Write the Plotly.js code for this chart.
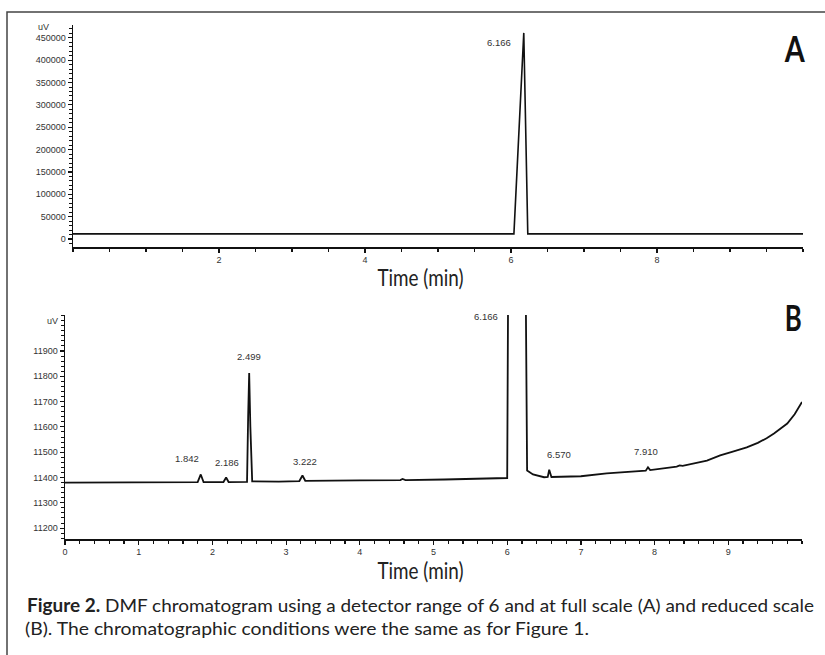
<!DOCTYPE html>
<html>
<head>
<meta charset="utf-8">
<script src="https://cdn.plot.ly/plotly-3.0.1.min.js"></script>
<style>
html,body{margin:0;padding:0;background:#fff;}
#chart{width:825px;height:655px;}
</style>
</head>
<body>
<div id="chart"></div>
<script>
// ---- Data ----
// Panel A: full scale chromatogram (time in min, signal in uV)
const timeA = [0, 6.04, 6.175, 6.23, 10];
const signalA = [11380, 11380, 461000, 11380, 11380];

// Panel B: reduced scale chromatogram
const timeB = [0, 1.0, 1.80, 1.842, 1.88, 2.15, 2.186, 2.22, 2.47, 2.485, 2.499, 2.515, 2.54,
  2.9, 3.18, 3.222, 3.26, 4.0, 4.55, 4.58, 4.62, 5.15, 5.9, 6.0, 6.02, 6.24, 6.27, 6.35,
  6.5, 6.55, 6.57, 6.6, 7.0, 7.35, 7.88, 7.91, 7.94, 8.3, 8.34, 8.38, 8.71, 8.89, 9.05, 9.25,
  9.4, 9.52, 9.62, 9.7, 9.8, 9.9, 10.0];
const signalB = [11380, 11381, 11382, 11412, 11382, 11382, 11400, 11382, 11383, 11640, 11813, 11600, 11385,
  11384, 11386, 11408, 11387, 11389, 11390, 11394, 11390, 11392, 11396, 11398, 12600, 12600, 11428, 11412,
  11401, 11402, 11431, 11402, 11405, 11416, 11427, 11440, 11429, 11443, 11448, 11446, 11467, 11487, 11501, 11519,
  11537, 11555, 11574, 11592, 11613, 11650, 11698];

// Peak labels (retention times)
const peakLabelA = ['6.166'];
const peakLabelsB = ['1.842', '2.186', '2.499', '3.222', '6.166', '6.570', '7.910'];

// Axis ticks
const yTicksA = [0, 50000, 100000, 150000, 200000, 250000, 300000, 350000, 400000, 450000];
const xTicksA = [2, 4, 6, 8];
const yTicksB = [11200, 11300, 11400, 11500, 11600, 11700, 11800, 11900];
const xTicksB = [0, 1, 2, 3, 4, 5, 6, 7, 8, 9];

const caption1 = '<b>Figure 2.</b> DMF chromatogram using a detector range of 6 and at full scale (A) and reduced scale';
const caption2 = '(B). The chromatographic conditions were the same as for Figure 1.';

// ---- Layout helpers (pixel -> paper) ----
const W = 825, H = 655;
const PX = p => p / W;
const PY = p => 1 - p / H;

const human = 'Lato, Roboto, sans-serif';
const tickFont = {family: 'Liberation Sans, Arial, sans-serif', size: 9, color: '#333'};

const traces = [
  {x: timeA, y: signalA, xaxis: 'x', yaxis: 'y', mode: 'lines',
   line: {color: '#111', width: 1.6}, hoverinfo: 'skip'},
  {x: timeB, y: signalB, xaxis: 'x2', yaxis: 'y2', mode: 'lines',
   line: {color: '#111', width: 1.8}, hoverinfo: 'skip'}
];

const axisCommon = {
  showgrid: false, zeroline: false, showline: true, linecolor: '#111', linewidth: 1.5,
  ticks: 'outside', tickcolor: '#111', tickwidth: 1.2, tickfont: tickFont, fixedrange: true
};

const layout = {
  width: W, height: H,
  margin: {l: 0, r: 0, t: 0, b: 0},
  paper_bgcolor: '#fff', plot_bgcolor: 'rgba(0,0,0,0)',
  showlegend: false,
  xaxis: Object.assign({}, axisCommon, {
    domain: [PX(73), PX(803)], range: [0, 10], anchor: 'y',
    tickmode: 'array', tickvals: xTicksA, ticklen: 4,
    minor: {dtick: 0.5, ticks: 'outside', ticklen: 3, tickcolor: '#111', tickwidth: 1.2}
  }),
  yaxis: Object.assign({}, axisCommon, {
    domain: [PY(247), PY(25)], range: [-17900, 478700], anchor: 'x',
    tickmode: 'array', tickvals: yTicksA, tickformat: 'd', ticklen: 4,
    minor: {dtick: 10000, ticks: 'outside', ticklen: 2.5, tickcolor: '#111', tickwidth: 1}
  }),
  xaxis2: Object.assign({}, axisCommon, {
    domain: [PX(65), PX(802)], range: [0, 10], anchor: 'y2',
    tickmode: 'array', tickvals: xTicksB, ticklen: 4,
    minor: {dtick: 0.2, ticks: 'outside', ticklen: 3, tickcolor: '#111', tickwidth: 1.2}
  }),
  yaxis2: Object.assign({}, axisCommon, {
    domain: [PY(539), PY(315)], range: [11157, 12042], anchor: 'x2',
    tickmode: 'array', tickvals: yTicksB, tickformat: 'd', ticklen: 4,
    minor: {dtick: 20, ticks: 'outside', ticklen: 2.5, tickcolor: '#111', tickwidth: 1}
  }),
  shapes: [
    {type: 'rect', xref: 'paper', yref: 'paper', x0: PX(7), x1: 1.02, y0: -0.02, y1: PY(12),
     line: {color: '#444', width: 1.5}, fillcolor: 'rgba(0,0,0,0)', layer: 'below'}
  ],
  annotations: []
};

const ann = (text, x, y, font, extra) => Object.assign({
  text: text, xref: 'paper', yref: 'paper', x: PX(x), y: PY(y),
  xanchor: 'center', yanchor: 'middle', showarrow: false, font: font
}, extra || {});

// widths (px) that some texts are condensed to, keyed by annotation index
const squeeze = {};

const lblFont = {family: 'Liberation Sans, Arial, sans-serif', size: 9.5, color: '#333'};
// Panel A
layout.annotations.push(ann(peakLabelA[0], 499, 42, lblFont));
layout.annotations.push(ann('uV', 43, 27, tickFont));
squeeze[layout.annotations.length] = 20;
layout.annotations.push(ann('<b>A</b>', 794, 47, {family: human, size: 37, color: '#111'}));
squeeze[layout.annotations.length] = 86;
layout.annotations.push(ann('Time (min)', 421, 277, {family: human, size: 23, color: '#222'}));
// Panel B
const posB = [[187, 458], [227, 462], [249, 356], [305, 461], [486, 317], [559, 454], [646, 452]];
peakLabelsB.forEach((t, i) => layout.annotations.push(ann(t, posB[i][0], posB[i][1], lblFont)));
layout.annotations.push(ann('uV', 52, 321, tickFont));
squeeze[layout.annotations.length] = 17;
layout.annotations.push(ann('<b>B</b>', 793, 317, {family: human, size: 37, color: '#111'}));
squeeze[layout.annotations.length] = 86;
layout.annotations.push(ann('Time (min)', 421, 570, {family: human, size: 23, color: '#222'}));
// Caption
squeeze[layout.annotations.length] = 787;
layout.annotations.push(ann(caption1, 25, 605, {family: human, size: 18, color: '#222'}, {xanchor: 'left', align: 'left'}));
squeeze[layout.annotations.length] = 564;
layout.annotations.push(ann(caption2, 23, 628, {family: human, size: 18, color: '#222'}, {xanchor: 'left', align: 'left'}));

Plotly.newPlot('chart', traces, layout, {staticPlot: true, displayModeBar: false}).then(() => {
  Object.keys(squeeze).forEach(i => {
    const t = document.querySelector('#chart .annotation[data-index="' + i + '"] text.annotation-text');
    if (t) {
      t.setAttribute('textLength', squeeze[i]);
      t.setAttribute('lengthAdjust', 'spacingAndGlyphs');
    }
  });
});
</script>
</body>
</html>
